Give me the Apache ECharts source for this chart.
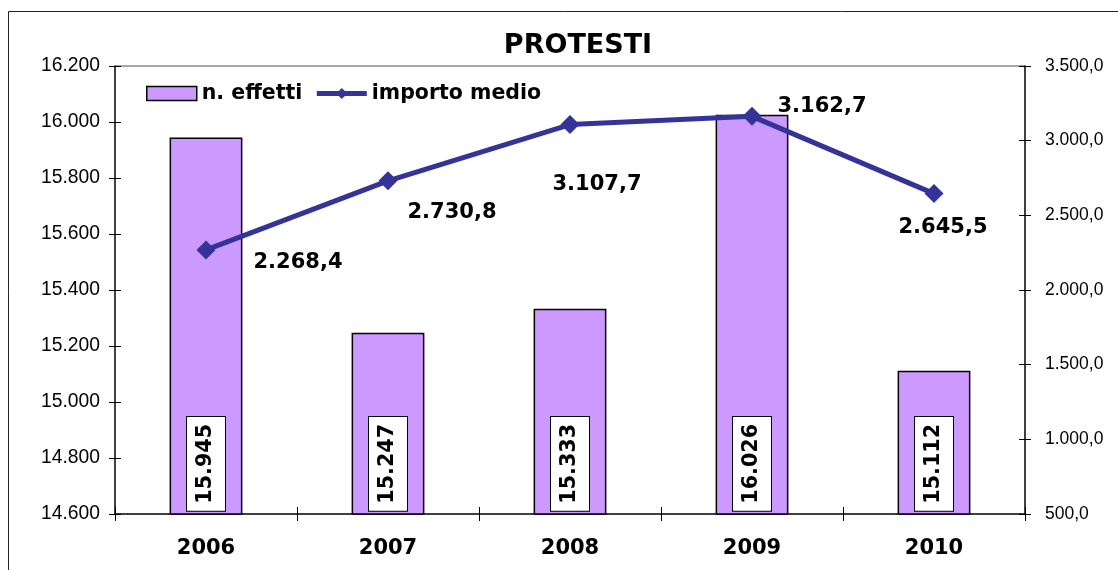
<!DOCTYPE html>
<html>
<head>
<meta charset="utf-8">
<script src="https://cdn.jsdelivr.net/npm/echarts@6/dist/echarts.min.js"></script>
<style>html,body{margin:0;padding:0;background:#fff;}#c{width:1118px;height:570px;}</style>
</head>
<body>
<div id="c"></div>
<script>
const years = ['2006', '2007', '2008', '2009', '2010'];
const nEffetti = [15945, 15247, 15333, 16026, 15112];
const importoMedio = [2268.4, 2730.8, 3107.7, 3162.7, 2645.5];
const leftTicks = { min: 14600, max: 16200, interval: 200 };
const rightTicks = { min: 500, max: 3500, interval: 500 };
const lineLabelOffsets = [[92, 13], [64, 32], [27, 60], [70, -10], [9, 34]];

function itFmt(v, dec) {
  const parts = v.toFixed(dec).split('.');
  const intp = parts[0].replace(/\B(?=(\d{3})+(?!\d))/g, '.');
  return dec > 0 ? intp + ',' + parts[1] : intp;
}

const chart = echarts.init(document.getElementById('c'), null, { renderer: 'canvas' });
const lblFont = 'DejaVu Sans';
const axisFont = 'Liberation Sans';
const tickInside = { show: true, inside: true, length: 6, lineStyle: { color: '#000' } };
const yBase = {
  type: 'value',
  splitLine: { show: false },
  axisLine: { show: true, lineStyle: { color: '#000', width: 1.5 } },
  axisTick: { show: true, length: 6, lineStyle: { color: '#000' } },
  axisLabel: { color: '#000', fontFamily: axisFont, fontSize: 18.5 }
};
chart.setOption({
  animation: false,
  backgroundColor: '#fff',
  title: {
    text: 'PROTESTI', left: 573, top: 27, textAlign: 'center',
    textStyle: { fontFamily: lblFont, fontWeight: 'bold', fontSize: 27, color: '#000' }
  },
  legend: {
    left: 141, top: 78, itemGap: 12,
    itemWidth: 50, itemHeight: 14,
    textStyle: { fontFamily: lblFont, fontWeight: 'bold', fontSize: 20.5, color: '#000' },
    data: [
      { name: 'n. effetti', icon: 'rect', itemStyle: { color: '#CC99FF', borderColor: '#000', borderWidth: 1.5 } },
      { name: 'importo medio', lineStyle: { width: 5, color: '#333399' }, itemStyle: { color: '#333399' } }
    ]
  },
  graphic: [
    { type: 'rect', shape: { x: 8.5, y: 11.5, width: 1200, height: 700 }, style: { fill: 'none', stroke: '#222', lineWidth: 1 }, z: -1 },
    { type: 'line', shape: { x1: 115, y1: 66, x2: 1025, y2: 66 }, style: { stroke: '#888', lineWidth: 1.5 }, z: 0 }
  ],
  grid: { left: 115, right: 93, top: 66, bottom: 56 },
  xAxis: [
    {
      type: 'category', data: years,
      axisLine: { lineStyle: { color: '#000', width: 1.5 } },
      axisTick: { show: true, length: 7, lineStyle: { color: '#000' } },
      axisLabel: { color: '#000', fontFamily: lblFont, fontWeight: 'bold', fontSize: 21, margin: 24 }
    },
    {
      type: 'category', data: years, position: 'bottom',
      axisLine: { show: false },
      axisTick: { show: true, inside: true, length: 7, lineStyle: { color: '#000' } },
      axisLabel: { show: false }
    }
  ],
  yAxis: [
    Object.assign({}, yBase, leftTicks, { position: 'left', axisLabel: Object.assign({}, yBase.axisLabel, { fontSize: 19.3, margin: 15, formatter: v => itFmt(v, 0) }) }),
    Object.assign({}, yBase, rightTicks, { position: 'right', axisLabel: Object.assign({}, yBase.axisLabel, { fontSize: 17.5, margin: 20, formatter: v => itFmt(v, 1) }) }),
    Object.assign({}, yBase, leftTicks, { position: 'left', axisLine: { show: false }, axisLabel: { show: false }, axisTick: tickInside }),
    Object.assign({}, yBase, rightTicks, { position: 'right', axisLine: { show: false }, axisLabel: { show: false }, axisTick: tickInside })
  ],
  series: [
    {
      name: 'n. effetti', type: 'bar', yAxisIndex: 0, barWidth: '40%',
      data: nEffetti,
      itemStyle: { color: '#CC99FF', borderColor: '#000', borderWidth: 1.5 },
      label: {
        show: true, position: 'insideBottom', rotate: 90, distance: 4,
        align: 'left', verticalAlign: 'middle',
        formatter: p => itFmt(p.value, 0),
        fontFamily: lblFont, fontWeight: 'bold', fontSize: 20.7, color: '#000',
        backgroundColor: '#fff', borderColor: '#000', borderWidth: 1,
        padding: [9, 7, 8, 7]
      }
    },
    {
      name: 'importo medio', type: 'line', yAxisIndex: 1,
      data: importoMedio.map((v, i) => ({ value: v, label: { offset: lineLabelOffsets[i] } })),
      lineStyle: { color: '#333399', width: 5 },
      itemStyle: { color: '#333399' },
      symbol: 'diamond', symbolSize: 19,
      label: {
        show: true, position: 'inside',
        formatter: p => itFmt(p.value, 1),
        fontFamily: lblFont, fontWeight: 'bold', fontSize: 21, color: '#000'
      }
    }
  ]
});
</script>
</body>
</html>
